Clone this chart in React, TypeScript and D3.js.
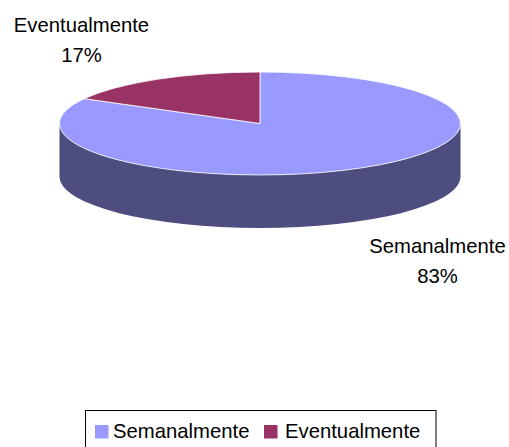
import React from "react";
import * as d3 from "d3";

const categories = ["Semanalmente", "Eventualmente"];
const values = [83, 17];
const percentLabels = ["83%", "17%"];
const topColors = ["#9999FF", "#993366"];
const sideColors = ["#4D4D80", "#4D1A33"];

const W = 509;
const H = 447;
const cx = 260;
const cy = 123.5;
const rx = 200.5;
const ry = 51.5;
const depth = 53;
const FONT = "'Liberation Sans', Arial, sans-serif";

function pt(a: number, dy = 0): [number, number] {
  return [cx + rx * Math.sin(a), cy - ry * Math.cos(a) + dy];
}

export default function App() {
  const pie = d3
    .pie<number>()
    .sort(null)
    .startAngle(0)
    .endAngle(2 * Math.PI);
  const arcs = pie(values);

  const sides = arcs.map((d, i) => {
    const a1 = Math.max(d.startAngle, Math.PI / 2);
    const a2 = Math.min(d.endAngle, (3 * Math.PI) / 2);
    if (a2 <= a1) return null;
    const [x1, y1] = pt(a1);
    const [x2, y2] = pt(a2);
    const [x3, y3] = pt(a2, depth);
    const [x4, y4] = pt(a1, depth);
    const large = a2 - a1 > Math.PI ? 1 : 0;
    const p = `M${x1},${y1} A${rx},${ry} 0 ${large} 1 ${x2},${y2} L${x3},${y3} A${rx},${ry} 0 ${large} 0 ${x4},${y4} Z`;
    return <path key={"s" + i} d={p} fill={sideColors[i]} />;
  });

  const tops = arcs.map((d, i) => {
    const [x1, y1] = pt(d.startAngle);
    const [x2, y2] = pt(d.endAngle);
    const large = d.endAngle - d.startAngle > Math.PI ? 1 : 0;
    const p = `M${cx},${cy} L${x1},${y1} A${rx},${ry} 0 ${large} 1 ${x2},${y2} Z`;
    return (
      <path
        key={"t" + i}
        d={p}
        fill={topColors[i]}
        stroke="#ffffff"
        strokeOpacity={0.8}
        strokeWidth={1}
        strokeLinejoin="round"
      />
    );
  });

  const labelPos: [number, number][] = [
    [437.5, 253],
    [81.5, 32],
  ];

  const legendX = [95, 264];
  const legendTextX = [113, 285];

  return (
    <svg
      width={W}
      height={H}
      style={{ position: "absolute", left: 0, top: 0, background: "#fff" }}
      fontFamily={FONT}
    >
      <rect x={0} y={0} width={W} height={H} fill="#fff" />
      {sides}
      {tops}
      {arcs.map((d, i) => (
        <text
          key={"l" + i}
          x={labelPos[i][0]}
          y={labelPos[i][1]}
          textAnchor="middle"
          fontSize={20.3}
          fill="#000"
        >
          <tspan x={labelPos[i][0]}>{categories[i]}</tspan>
          <tspan x={labelPos[i][0]} dy={30}>
            {percentLabels[i]}
          </tspan>
        </text>
      ))}
      <rect
        x={85.5}
        y={410.5}
        width={350.5}
        height={50}
        fill="#fff"
        stroke="#000"
        strokeWidth={1}
      />
      {categories.map((c, i) => (
        <g key={"g" + i}>
          <rect x={legendX[i]} y={425} width={13.5} height={13.5} fill={topColors[i]} />
          <text x={legendTextX[i]} y={438} fontSize={20.3} fill="#000">
            {c}
          </text>
        </g>
      ))}
    </svg>
  );
}
